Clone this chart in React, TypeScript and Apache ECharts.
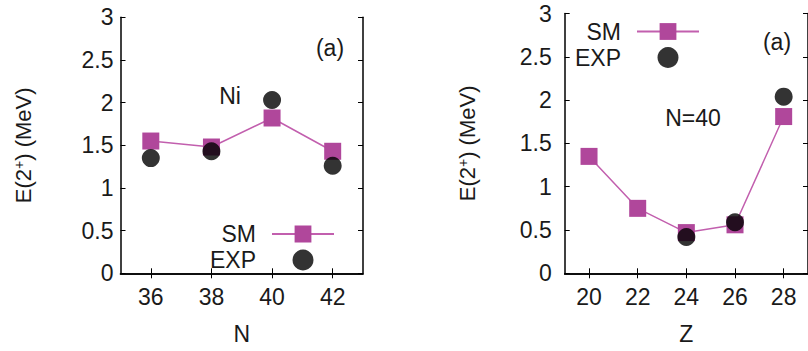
import { useEffect, useRef } from 'react';
import * as echarts from 'echarts';

const nValues = [36, 38, 40, 42];
const niSM = [1.55, 1.48, 1.82, 1.43];
const niEXP = [1.35, 1.43, 2.03, 1.26];

const zValues = [20, 22, 24, 26, 28];
const n40SM = [1.35, 0.75, 0.47, 0.56, 1.81];
const n40EXP: (number | null)[] = [null, null, 0.42, 0.59, 2.04];

const seriesNames = ['SM', 'EXP'];

const FONT = '"Liberation Sans", Arial, Helvetica, sans-serif';
const FS = 23;
const SM_COLOR = '#b0479b';
const SM_LINE = '#c25fae';

function pairs(xs: number[], ys: (number | null)[]) {
  return xs.map((x, i) => [x, ys[i]]).filter((p) => p[1] !== null);
}

export default function App() {
  const ref = useRef<HTMLDivElement>(null);
  useEffect(() => {
    if (!ref.current) return;
    const chart = echarts.init(ref.current, null, { renderer: 'svg' });

    const axisLine = { show: true, lineStyle: { color: '#000', width: 1.5 } };
    const tick = { show: true, inside: true, length: 5, lineStyle: { color: '#000', width: 1 } };
    const labelStyle = { color: '#1a1a1a', fontSize: FS, fontFamily: FONT };
    const yName = '{t|E(2}{s|+}{t|) (MeV)}';
    const yNameStyle = {
      color: '#1a1a1a',
      rich: {
        t: { fontSize: 22, fontFamily: FONT, color: '#1a1a1a' },
        s: { fontSize: 14, fontFamily: FONT, color: '#1a1a1a', verticalAlign: 'top', padding: [0, 0, 10, 0] },
      },
    };

    const grids = [
      { left: 120.5, top: 17.3, width: 242.5, height: 256 },
      { left: 564.7, top: 13.5, width: 247.3, height: 259.8 },
    ];

    const xMain = (gi: number, min: number, max: number, vals: number[], name: string) => ({
      type: 'value', gridIndex: gi, min, max, position: 'bottom',
      axisLine, axisTick: { ...tick, customValues: vals },
      axisLabel: { ...labelStyle, margin: 12, customValues: vals },
      splitLine: { show: false },
      name, nameLocation: 'middle', nameGap: 49,
      nameTextStyle: { fontSize: FS, fontFamily: FONT, color: '#1a1a1a' },
    });
    const xTop = (gi: number, min: number, max: number, vals: number[]) => ({
      type: 'value', gridIndex: gi, min, max, position: 'top',
      axisLine, axisTick: { ...tick, customValues: vals },
      axisLabel: { show: false }, splitLine: { show: false },
    });
    const yMain = (gi: number, margin: number, nameGap: number) => ({
      type: 'value', gridIndex: gi, min: 0, max: 3, interval: 0.5, position: 'left',
      axisLine, axisTick: tick,
      axisLabel: { ...labelStyle, margin },
      splitLine: { show: false },
      name: yName, nameLocation: 'middle', nameRotate: 90, nameGap,
      nameTextStyle: yNameStyle,
    });
    const yRight = (gi: number) => ({
      type: 'value', gridIndex: gi, min: 0, max: 3, interval: 0.5, position: 'right',
      axisLine, axisTick: tick, axisLabel: { show: false }, splitLine: { show: false },
    });

    const smSeries = (xi: number, yi: number, data: any[]) => ({
      name: 'SM', type: 'line', xAxisIndex: xi, yAxisIndex: yi, data,
      symbol: 'rect', symbolSize: 17,
      itemStyle: { color: SM_COLOR },
      lineStyle: { color: SM_LINE, width: 1.5 },
      z: 2,
    });
    const expSeries = (xi: number, yi: number, data: any[]) => ({
      name: 'EXP', type: 'scatter', xAxisIndex: xi, yAxisIndex: yi, data,
      symbol: 'circle', symbolSize: 18,
      itemStyle: { color: '#000' },
      z: 3,
    });

    const legendBase = {
      orient: 'vertical', align: 'right', itemWidth: 62, itemHeight: 21, itemGap: 3,
      padding: 0,
      textStyle: { fontSize: FS, fontFamily: FONT, color: '#1a1a1a', padding: [0, 11, 0, 0] },
      data: seriesNames, selectedMode: false,
    };

    const txt = (x: number, y: number, text: string) => ({
      type: 'text', x, y,
      style: { text, fontSize: FS, fontFamily: FONT, fill: '#1a1a1a', align: 'center', verticalAlign: 'middle' },
    });

    chart.setOption({
      animation: false,
      backgroundColor: '#fff',
      grid: grids,
      xAxis: [
        xMain(0, 35, 43, nValues, 'N'),
        xTop(0, 35, 43, nValues),
        xMain(1, 19, 29, zValues, 'Z'),
        xTop(1, 19, 29, zValues),
      ],
      yAxis: [yMain(0, 7, 85), yRight(0), yMain(1, 13, 85), yRight(1)],
      legend: [
        { ...legendBase, right: 473, top: 222.5 },
        { ...legendBase, right: 108, top: 20 },
      ],
      series: [
        smSeries(0, 0, pairs(nValues, niSM)),
        expSeries(0, 0, pairs(nValues, niEXP)),
        smSeries(2, 2, pairs(zValues, n40SM)),
        expSeries(2, 2, pairs(zValues, n40EXP)),
      ],
      graphic: [
        txt(330, 48, '(a)'),
        txt(230, 96, 'Ni'),
        txt(777, 42, '(a)'),
        txt(693, 118, 'N=40'),
      ],
    });
    return () => chart.dispose();
  }, []);
  return <div ref={ref} style={{ position: 'fixed', left: 0, top: 0, width: 808, height: 351 }} />;
}
